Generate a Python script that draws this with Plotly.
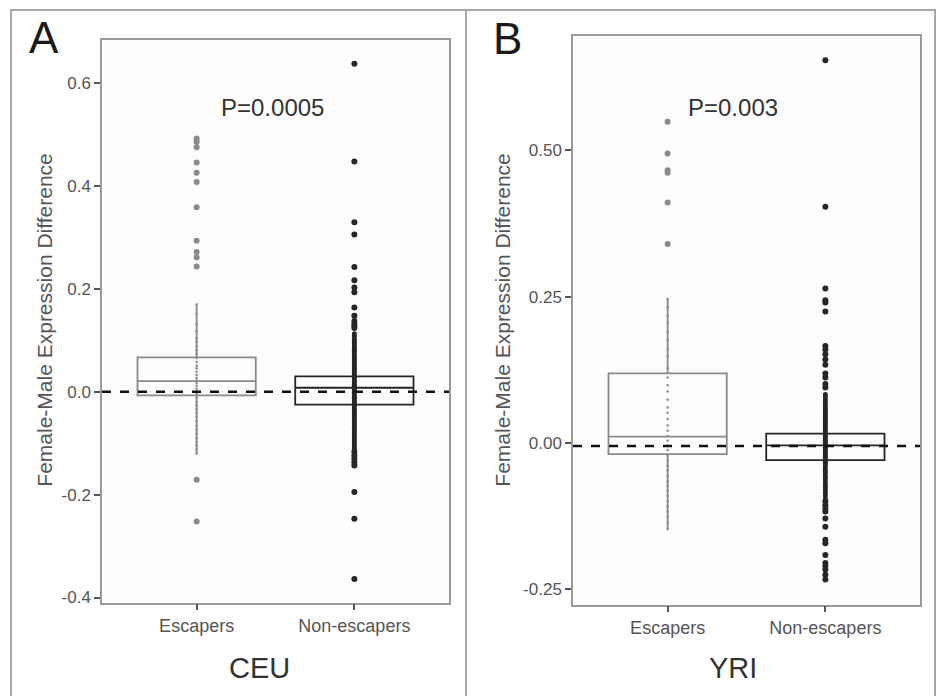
import plotly.graph_objects as go

W, H = 938, 696

categories = ["Escapers", "Non-escapers"]

# ---- Panel A (CEU) ----
ceu_stats = {  # q1, median, q3, lower whisker, upper whisker
    "Escapers": [-0.007, 0.021, 0.067, -0.12, 0.17],
    "Non-escapers": [-0.025, 0.008, 0.030, -0.114, 0.113],
}
ceu_esc_outliers = [0.493, 0.486, 0.476, 0.446, 0.426, 0.408, 0.359, 0.294,
                    0.272, 0.262, 0.244, -0.171, -0.252]
ceu_non_outliers = [0.638, 0.448, 0.330, 0.306, 0.243, 0.217, 0.203, 0.194,
                    0.164, 0.148, 0.138, 0.132, 0.128, 0.124, -0.117, -0.124,
                    -0.130, -0.137, -0.143, -0.195, -0.247, -0.364]
ceu_esc_points = [0.17, 0.152, 0.131, 0.118, 0.104, 0.097, 0.088, 0.081, 0.074,
                  0.066, 0.058, 0.051, 0.046, 0.039, 0.033, 0.027, 0.022, 0.017,
                  0.012, 0.006, 0.001, -0.004, -0.011, -0.019, -0.026, -0.034,
                  -0.041, -0.049, -0.057, -0.066, -0.073, -0.081, -0.09, -0.097,
                  -0.104, -0.112, -0.12]
ceu_non_points = [0.113, 0.108, 0.102, 0.097, 0.093, 0.088, 0.083, 0.079, 0.074,
                  0.069, 0.065, 0.061, 0.056, 0.052, 0.047, 0.043, 0.039, 0.035,
                  0.031, 0.027, 0.023, 0.019, 0.015, 0.011, 0.007, 0.003, -0.001,
                  -0.005, -0.009, -0.013, -0.017, -0.021, -0.025, -0.029, -0.034,
                  -0.038, -0.043, -0.047, -0.052, -0.056, -0.061, -0.066, -0.071,
                  -0.075, -0.08, -0.085, -0.09, -0.095, -0.1, -0.105, -0.11, -0.114]
ceu_ref = 0.0
ceu_ticks = [-0.4, -0.2, 0.0, 0.2, 0.4, 0.6]
ceu_ticktext = ["-0.4", "-0.2", "0.0", "0.2", "0.4", "0.6"]
ceu_range = [-0.41, 0.685]

# ---- Panel B (YRI) ----
yri_stats = {
    "Escapers": [-0.019, 0.011, 0.119, -0.147, 0.246],
    "Non-escapers": [-0.029, -0.004, 0.016, -0.096, 0.083],
}
yri_esc_outliers = [0.549, 0.495, 0.466, 0.462, 0.411, 0.340]
yri_non_outliers = [0.654, 0.404, 0.264, 0.244, 0.240, 0.225, 0.166, 0.160,
                    0.152, 0.143, 0.134, 0.119, 0.112, 0.101, 0.095, -0.100,
                    -0.106, -0.112, -0.117, -0.129, -0.143, -0.165, -0.171,
                    -0.191, -0.205, -0.210, -0.216, -0.225, -0.233]
yri_esc_points = [0.246, 0.232, 0.218, 0.205, 0.19, 0.176, 0.161, 0.148, 0.128,
                  0.112, 0.099, 0.088, 0.074, 0.061, 0.052, 0.041, 0.03, 0.021,
                  0.012, 0.004, -0.004, -0.012, -0.021, -0.03, -0.039, -0.047,
                  -0.056, -0.065, -0.073, -0.082, -0.09, -0.099, -0.108, -0.117,
                  -0.126, -0.136, -0.147]
yri_non_points = [0.083, 0.079, 0.074, 0.07, 0.066, 0.061, 0.057, 0.053, 0.049,
                  0.045, 0.041, 0.037, 0.033, 0.029, 0.025, 0.021, 0.017, 0.013,
                  0.009, 0.005, 0.001, -0.003, -0.007, -0.011, -0.015, -0.019,
                  -0.023, -0.027, -0.031, -0.035, -0.039, -0.044, -0.048, -0.052,
                  -0.057, -0.061, -0.066, -0.071, -0.075, -0.08, -0.085, -0.09,
                  -0.096]
yri_ref = -0.005
yri_ticks = [-0.25, 0.0, 0.25, 0.5]
yri_ticktext = ["-0.25", "0.00", "0.25", "0.50"]
yri_range = [-0.276, 0.696]

panels = [
    dict(name="CEU", letter="A", pval="P=0.0005", stats=ceu_stats,
         esc_out=ceu_esc_outliers, non_out=ceu_non_outliers,
         esc_pts=ceu_esc_points, non_pts=ceu_non_points, ref=ceu_ref,
         ticks=ceu_ticks, ticktext=ceu_ticktext, yrange=ceu_range),
    dict(name="YRI", letter="B", pval="P=0.003", stats=yri_stats,
         esc_out=yri_esc_outliers, non_out=yri_non_outliers,
         esc_pts=yri_esc_points, non_pts=yri_non_points, ref=yri_ref,
         ticks=yri_ticks, ticktext=yri_ticktext, yrange=yri_range),
]

# layout geometry in pixels
plot_px = [  # left, right, top, bottom
    (102, 449, 40, 607),
    (573, 920, 36, 609),
]
letter_px = [(44, 38), (507, 39)]
pval_px = [(272, 108), (733, 108)]
ytitle_px = [(45, 323), (503, 323)]
xtitle_px = [(259, 673), (733, 673)]

def px(x):
    return x / W

def py(y):
    return 1 - y / H

GREY = "#8a8a8a"
DARK = "#262626"
FONT = "Liberation Sans, Arial, sans-serif"

fig = go.Figure()
annotations = []
shapes = []

for i, p in enumerate(panels):
    xa = "x" if i == 0 else "x2"
    ya = "y" if i == 0 else "y2"
    colors = {"Escapers": GREY, "Non-escapers": DARK}
    for cat in categories:
        q1, med, q3, lo, hi = p["stats"][cat]
        fig.add_trace(go.Box(
            x=[cat], q1=[q1], median=[med], q3=[q3],
            lowerfence=[lo], upperfence=[hi],
            boxpoints=False, width=0.75, whiskerwidth=0,
            line=dict(color=colors[cat], width=1.8),
            fillcolor="rgba(0,0,0,0)", xaxis=xa, yaxis=ya,
            showlegend=False, hoverinfo="skip"))
    # strip points
    fig.add_trace(go.Scatter(
        x=["Escapers"] * len(p["esc_pts"]), y=p["esc_pts"], mode="markers",
        marker=dict(size=2.5, color=GREY), xaxis=xa, yaxis=ya,
        showlegend=False, hoverinfo="skip"))
    fig.add_trace(go.Scatter(
        x=["Non-escapers"] * len(p["non_pts"]), y=p["non_pts"], mode="markers",
        marker=dict(size=5, color=DARK), xaxis=xa, yaxis=ya,
        showlegend=False, hoverinfo="skip"))
    # outliers
    fig.add_trace(go.Scatter(
        x=["Escapers"] * len(p["esc_out"]), y=p["esc_out"], mode="markers",
        marker=dict(size=6, color=GREY), xaxis=xa, yaxis=ya,
        showlegend=False, hoverinfo="skip"))
    fig.add_trace(go.Scatter(
        x=["Non-escapers"] * len(p["non_out"]), y=p["non_out"], mode="markers",
        marker=dict(size=6, color=DARK), xaxis=xa, yaxis=ya,
        showlegend=False, hoverinfo="skip"))

    # dashed reference line
    shapes.append(dict(type="line", xref=f"{xa} domain", yref=ya,
                       x0=0, x1=1, y0=p["ref"], y1=p["ref"],
                       line=dict(color="#111111", width=2.5, dash="dash"),
                       layer="above"))

    l, r, t, b = plot_px[i]
    axis_common = dict(showline=True, mirror=True, linecolor="#9a9a9a",
                       linewidth=1.5, showgrid=False, zeroline=False,
                       ticks="outside", ticklen=6, tickcolor="#555555",
                       tickwidth=1.5)
    xaxis = dict(domain=[px(l), px(r)], type="category",
                 categoryorder="array", categoryarray=categories,
                 range=[-0.6, 1.6],
                 tickfont=dict(family=FONT, size=18, color="#555555"),
                 anchor=ya, **axis_common)
    yaxis = dict(domain=[py(b), py(t)], range=p["yrange"],
                 tickvals=p["ticks"], ticktext=p["ticktext"],
                 tickfont=dict(family=FONT, size=17, color="#555555"),
                 anchor=xa, **axis_common)
    if i == 0:
        fig.update_layout(xaxis=xaxis, yaxis=yaxis)
    else:
        fig.update_layout(xaxis2=xaxis, yaxis2=yaxis)

    annotations.append(dict(x=px(letter_px[i][0]), y=py(letter_px[i][1]),
                            xref="paper", yref="paper", text=p["letter"],
                            showarrow=False, xanchor="center", yanchor="middle",
                            font=dict(family=FONT, size=44, color="#1a1a1a")))
    annotations.append(dict(x=px(pval_px[i][0]), y=py(pval_px[i][1]),
                            xref="paper", yref="paper", text=p["pval"],
                            showarrow=False, xanchor="center", yanchor="middle",
                            font=dict(family=FONT, size=24, color="#333333")))
    annotations.append(dict(x=px(ytitle_px[i][0]), y=py(ytitle_px[i][1]),
                            xref="paper", yref="paper",
                            text="Female-Male Expression Difference",
                            textangle=-90, showarrow=False,
                            xanchor="center", yanchor="middle",
                            font=dict(family=FONT, size=21, color="#555555")))
    annotations.append(dict(x=px(xtitle_px[i][0]), y=py(xtitle_px[i][1]),
                            xref="paper", yref="paper", text=p["name"],
                            showarrow=False, xanchor="center", yanchor="middle",
                            font=dict(family=FONT, size=29, color="#333333")))

# outer frame and divider (frame continues past the bottom edge)
shapes.append(dict(type="rect", xref="paper", yref="paper",
                   x0=px(11), x1=px(935), y0=py(740), y1=py(10),
                   line=dict(color="#a8a8a8", width=2), layer="below"))
shapes.append(dict(type="line", xref="paper", yref="paper",
                   x0=px(466), x1=px(466), y0=py(740), y1=py(10),
                   line=dict(color="#a8a8a8", width=2), layer="below"))

fig.update_layout(
    width=W, height=H, autosize=False,
    margin=dict(l=0, r=0, t=0, b=0),
    paper_bgcolor="white", plot_bgcolor="#fdfdfd",
    boxmode="overlay",
    annotations=annotations, shapes=shapes,
)

fig.write_html("out.html", config={"displayModeBar": False},
               post_script="document.body.style.margin='0';")
